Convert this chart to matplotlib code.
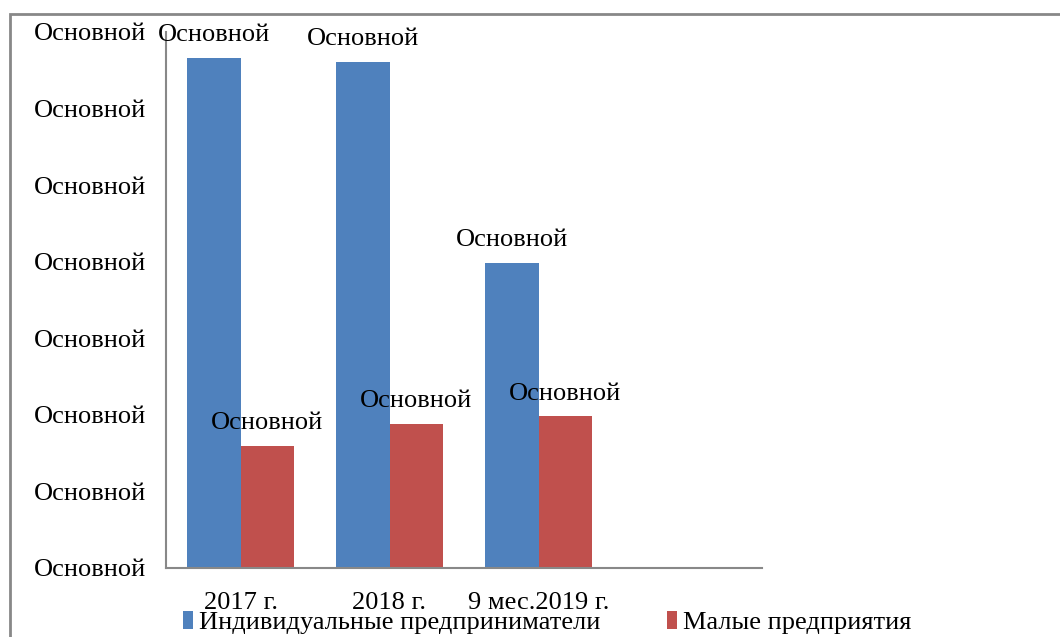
import matplotlib
matplotlib.use("Agg")
import matplotlib.pyplot as plt
from matplotlib.patches import Rectangle
import numpy as np

plt.rcParams['font.family'] = ['Liberation Serif', 'DejaVu Serif']

categories = ["2017 г.", "2018 г.", "9 мес.2019 г.", ""]
ip_values = [6.66, 6.61, 3.98, None]
small_values = [1.59, 1.88, 1.98, None]
series_names = ["Индивидуальные предприниматели", "Малые предприятия"]
ytick_values = [0, 1, 2, 3, 4, 5, 6, 7]
ytick_labels = ["Основной"] * 8
data_label = "Основной"

blue = "#4F81BD"
red = "#C0504D"

fig = plt.figure(figsize=(10.6, 6.37), dpi=100)
ax = fig.add_axes([166/1060, 1-568/637, (762-166)/1060, (568-32)/637])

x = np.arange(len(categories))
w = 0.362
ip = [v if v is not None else 0 for v in ip_values]
sm = [v if v is not None else 0 for v in small_values]
n = 3
b1 = ax.bar(x[:n] - w/2, ip[:n], w, color=blue, label=series_names[0])
b2 = ax.bar(x[:n] + w/2, sm[:n], w, color=red, label=series_names[1])

fs = 19
for bars in (b1, b2):
    for r in bars:
        ax.annotate(data_label, (r.get_x() + r.get_width()/2, r.get_height()),
                    xytext=(0, 8.5), textcoords="offset points",
                    ha="center", va="bottom", fontsize=fs, annotation_clip=False)

ax.set_xlim(-0.5, 3.5)
ax.set_ylim(0, 7)
ax.set_yticks(ytick_values)
ax.set_yticklabels(ytick_labels, fontsize=fs)
ax.set_xticks(x[:n])
ax.set_xticklabels(categories[:n], fontsize=fs)
ax.tick_params(axis='y', length=0, pad=14.5)
ax.tick_params(axis='x', length=0, pad=17.5)
for s in ("top", "right"):
    ax.spines[s].set_visible(False)
for s in ("left", "bottom"):
    ax.spines[s].set_color("#888888")
    ax.spines[s].set_linewidth(1.5)

leg = fig.legend(handles=[b1, b2], loc="lower left", bbox_to_anchor=(172/1060, -0.012),
                 ncol=2, frameon=False, fontsize=fs, handlelength=0.38, handleheight=0.7,
                 handletextpad=0.25, columnspacing=2.5, borderaxespad=0)

fig.patches.append(Rectangle((10/1060, -0.1), 1.2, 1 - 14/637 + 0.1, transform=fig.transFigure,
                             fill=False, edgecolor="#888888", linewidth=2, zorder=0))

fig.savefig("out.png", dpi=100)
